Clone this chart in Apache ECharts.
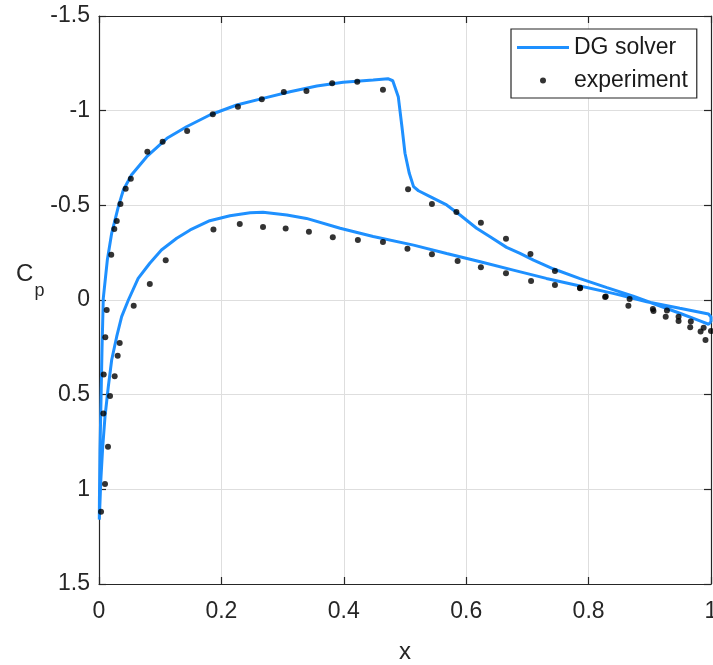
<!DOCTYPE html>
<html>
<head>
<meta charset="utf-8">
<script src="https://cdn.jsdelivr.net/npm/echarts@6/dist/echarts.min.js"></script>
<style>
html,body{margin:0;padding:0;background:#fff;overflow:hidden;}
#chart{width:713px;height:665px;}
</style>
</head>
<body>
<div id="chart"></div>
<script>
// DG solver closed loop: upper surface (TE -> LE), stagnation, lower surface (LE -> TE)
const dgX = [1.0, 0.996, 0.982, 0.949, 0.911, 0.873, 0.83, 0.786, 0.742, 0.71, 0.688, 0.666, 0.639, 0.617, 0.59, 0.568, 0.541, 0.522, 0.514, 0.507, 0.5, 0.495, 0.489, 0.48, 0.472, 0.448, 0.399, 0.356, 0.312, 0.268, 0.225, 0.181, 0.143, 0.111, 0.078, 0.053, 0.0398, 0.0316, 0.0207, 0.0136, 0.007, 0.0049, 0.0033, 0.0016, 0.0007, 0.0005,
  0.003, 0.006, 0.0098, 0.0152, 0.0207, 0.0289, 0.037, 0.048, 0.064, 0.083, 0.102, 0.127, 0.149, 0.181, 0.214, 0.247, 0.268, 0.307, 0.339, 0.394, 0.448, 0.514, 0.568, 0.623, 0.677, 0.731, 0.786, 0.84, 0.895, 0.949, 0.996, 1.0, 1.0];
const dgCp = [0.115, 0.128, 0.11, 0.07, 0.025, -0.02, -0.065, -0.113, -0.165, -0.211, -0.246, -0.278, -0.334, -0.379, -0.449, -0.502, -0.546, -0.577, -0.599, -0.669, -0.775, -0.915, -1.074, -1.158, -1.169, -1.162, -1.15, -1.13, -1.1, -1.065, -1.03, -0.977, -0.915, -0.854, -0.757, -0.66, -0.581, -0.493, -0.352, -0.211, -0.009, 0.264, 0.528, 0.792, 1.056, 1.16,
  0.95, 0.78, 0.616, 0.458, 0.317, 0.194, 0.088, 0.0, -0.114, -0.194, -0.264, -0.326, -0.37, -0.419, -0.445, -0.461, -0.463, -0.449, -0.431, -0.379, -0.335, -0.29, -0.246, -0.202, -0.158, -0.114, -0.074, -0.035, 0.009, 0.044, 0.074, 0.09, 0.115];

// Experimental points
const expX = [0.0033, 0.0098, 0.0147, 0.0071, 0.0077, 0.0103, 0.0126, 0.020, 0.025, 0.029, 0.035, 0.0436, 0.052, 0.079, 0.104, 0.144, 0.186, 0.227, 0.266, 0.302, 0.339, 0.381, 0.422, 0.464, 0.505, 0.544, 0.584, 0.624, 0.665, 0.705, 0.745, 0.786, 0.828, 0.867, 0.905, 0.928, 0.947, 0.967, 0.988, 1.0,
  0.018, 0.0256, 0.0305, 0.0338, 0.0567, 0.083, 0.109, 0.187, 0.23, 0.268, 0.305, 0.343, 0.382, 0.423, 0.464, 0.504, 0.544, 0.586, 0.624, 0.665, 0.706, 0.745, 0.786, 0.827, 0.865, 0.906, 0.926, 0.947, 0.966, 0.983, 0.991];
const expCp = [1.118, 0.972, 0.775, 0.599, 0.394, 0.197, 0.053, -0.239, -0.375, -0.417, -0.507, -0.588, -0.641, -0.783, -0.836, -0.893, -0.981, -1.021, -1.06, -1.099, -1.104, -1.145, -1.153, -1.111, -0.585, -0.507, -0.465, -0.408, -0.324, -0.243, -0.153, -0.065, -0.018, -0.005, 0.048, 0.056, 0.088, 0.114, 0.146, 0.164,
  0.507, 0.403, 0.294, 0.227, 0.03, -0.085, -0.21, -0.373, -0.401, -0.386, -0.377, -0.361, -0.331, -0.317, -0.306, -0.271, -0.241, -0.206, -0.173, -0.141, -0.1, -0.079, -0.062, -0.016, 0.03, 0.058, 0.088, 0.111, 0.144, 0.167, 0.211];

const seriesNames = ['DG solver', 'experiment'];
const xTicks = {min: 0, max: 1, interval: 0.2};
const yTicks = {min: -1.5, max: 1.5, interval: 0.5};

const FONT = 'Liberation Sans, Arial, Helvetica, sans-serif';
const AX = '#262626';

const dgData = dgX.map((x, i) => [x, dgCp[i]]);
const expData = expX.map((x, i) => [x, expCp[i]]);

const chart = echarts.init(document.getElementById('chart'), null, {renderer: 'canvas'});

function mkX(pos, main) {
  return {
    type: 'value', position: pos, min: xTicks.min, max: xTicks.max, interval: xTicks.interval,
    axisLine: {show: true, onZero: false, lineStyle: {color: AX, width: 1.2}},
    axisTick: {show: true, inside: true, length: 7, lineStyle: {color: AX, width: 1.2}},
    axisLabel: {show: main, fontSize: 23, color: AX, margin: 16, fontFamily: FONT, hideOverlap: false},
    splitLine: {show: main, lineStyle: {color: '#dedede', width: 1}},
    name: main ? 'x' : '', nameLocation: 'middle', nameGap: 56,
    nameTextStyle: {fontSize: 24, color: AX, fontFamily: FONT}
  };
}
function mkY(pos, main) {
  return {
    type: 'value', position: pos, inverse: true, min: yTicks.min, max: yTicks.max, interval: yTicks.interval,
    axisLine: {show: true, onZero: false, lineStyle: {color: AX, width: 1.2}},
    axisTick: {show: true, inside: true, length: 7, lineStyle: {color: AX, width: 1.2}},
    axisLabel: {show: main, fontSize: 23, color: AX, margin: 9, fontFamily: FONT},
    splitLine: {show: main, lineStyle: {color: '#dedede', width: 1}},
    name: main ? '{c|C}{p|p}' : '', nameLocation: 'middle', nameGap: 51, nameRotate: 0,
    nameTextStyle: {
      color: AX, fontFamily: FONT, padding: [0, 0, 58, 0],
      rich: {
        c: {fontSize: 24, color: AX, fontFamily: FONT, lineHeight: 30, verticalAlign: 'bottom'},
        p: {fontSize: 18, color: AX, fontFamily: FONT, lineHeight: 30, verticalAlign: 'bottom', padding: [0, 0, -14, 1]}
      }
    }
  };
}

chart.setOption({
  animation: false,
  backgroundColor: '#fff',
  grid: {left: 99, right: 2, top: 16, bottom: 81, containLabel: false, outerBoundsMode: 'none'},
  xAxis: [mkX('bottom', true), mkX('top', false)],
  yAxis: [mkY('left', true), mkY('right', false)],
  legend: {
    orient: 'vertical', left: 511, top: 29,
    padding: [7, 9, 6, 6], itemGap: 10,
    itemWidth: 52, itemHeight: 6,
    backgroundColor: '#fff', borderColor: AX, borderWidth: 1.2,
    textStyle: {fontSize: 23, color: '#1a1a1a', fontFamily: FONT},
    data: [
      {name: seriesNames[0], icon: 'path://M0,0L52,0L52,3L0,3Z'},
      {name: seriesNames[1], icon: 'circle'}
    ]
  },
  series: [
    {
      name: seriesNames[0], type: 'line', data: dgData, xAxisIndex: 0, yAxisIndex: 0,
      showSymbol: false, symbol: 'none', smooth: false, clip: true,
      lineStyle: {color: '#1e90ff', width: 3}, itemStyle: {color: '#1e90ff'}, z: 3
    },
    {
      name: seriesNames[1], type: 'scatter', data: expData, xAxisIndex: 0, yAxisIndex: 0,
      symbol: 'circle', symbolSize: 6, itemStyle: {color: '#000'}, z: 4
    }
  ]
});
</script>
</body>
</html>
